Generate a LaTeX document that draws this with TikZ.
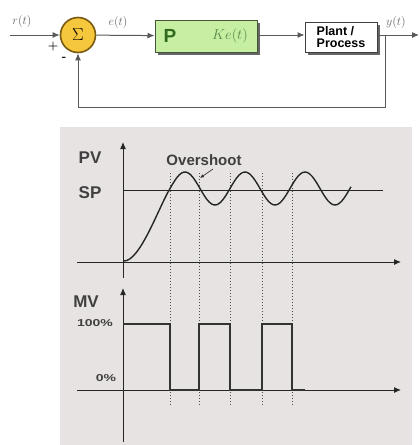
\documentclass[tikz,border=0pt]{standalone}
\usepackage{fontspec}
\setsansfont{Liberation Sans}
\usetikzlibrary{arrows.meta,shadows}

\definecolor{sumfill}{HTML}{F5C73C}
\definecolor{sumdraw}{HTML}{7A5A12}
\definecolor{pfill}{HTML}{C6EFA2}
\definecolor{pdraw}{HTML}{45553A}
\definecolor{pgreen}{HTML}{2F6A1E}
\definecolor{panelgray}{HTML}{E7E3E2}

\begin{document}
\begin{tikzpicture}[>={Latex[length=7pt,width=6pt]}, x=1pt, y=-1pt,
  sigline/.style={draw=black!65, line width=1pt},
  siglbl/.style={text=black!60, font=\fontsize{13}{13}\selectfont},
  sumnode/.style={circle, draw=sumdraw, fill=sumfill, line width=1.6pt,
    minimum size=35, inner sep=0pt, font=\fontsize{18}{18}\selectfont},
  blockshadow/.style={drop shadow={shadow xshift=3pt, shadow yshift=-3pt,
    opacity=0.8, fill=black!75}},
  pbox/.style={draw=pdraw, fill=pfill, line width=1pt, blockshadow,
    minimum width=102, minimum height=32},
  plantbox/.style={draw=black!75, fill=white, line width=1pt, blockshadow,
    minimum width=72, minimum height=30, align=left, inner sep=1pt,
    font=\sffamily\bfseries\fontsize{12.5}{11.5}\selectfont},
  axisline/.style={->, line width=1pt, draw=black!85},
  guide/.style={dotted, line width=1pt, black!70},
  axlbl/.style={font=\sffamily\bfseries\fontsize{17}{17}\selectfont, text=black!75}]
  \useasboundingbox (0,0) rectangle (420,445);

  % Feedback loop: sum -> P controller -> plant, output fed back.
  \coordinate (rin) at (10,35);
  \node[sumnode] (sum) at (78,35) {$\Sigma$};
  \node[pbox] (ctrl) at (206,36) {};
  \node[font=\sffamily\bfseries\fontsize{19}{19}\selectfont, text=pgreen]
    (pname) at (170,36) {P};
  \node[text=pgreen!80, font=\fontsize{15}{15}\selectfont] (pgain) at (230,36) {$Ke(t)$};
  \node[plantbox] (plant) at (341,37) {Plant /\\Process};
  \coordinate (yout) at (419,35);
  \coordinate (tap) at (385,35);
  \coordinate (fbcorner) at (385,107);
  \draw[sigline,->] (rin) -- (sum);
  \draw[sigline,->] (sum) -- (ctrl);
  \draw[sigline,->] (ctrl.east |- sum) -- (plant.west |- sum);
  \draw[sigline,->] (plant.east |- sum) -- (yout);
  \draw[sigline,->] (tap) -- (fbcorner) -| (sum.south);
  % Signal names and signs at the summing junction.
  \node[siglbl] (rlbl) at (22,21) {$r(t)$};
  \node[siglbl] (elbl) at (118,22) {$e(t)$};
  \node[siglbl] (ylbl) at (396,22) {$y(t)$};
  \node[font=\bfseries\fontsize{12}{12}\selectfont] (plus) at (53,47) {+};
  \node[font=\bfseries\fontsize{12}{12}\selectfont] (minus) at (64,59) {-};

  % Grey panel holding the response plots.
  \fill[panelgray] (60,127) rectangle (412,445);

  % Upper plot: process value against set point.
  \draw[axisline] (123,278) -- (123,142);
  \draw[axisline] (77,262) -- (401,262);
  \draw[line width=1pt, black!85] (123,190) -- (383,190);
  \node[axlbl] (pvlbl) at (90,158) {PV};
  \node[axlbl] (splbl) at (90,193) {SP};
  % Switching instants, dotted across both plots.
  \foreach \x in {170,199,230,262,292}
    \draw[guide] (\x,173) -- (\x,405);
  % Rise, then oscillation about the set point.
  \draw[line width=1.4pt, black!85] (124,261)
    .. controls (140,261) and (158,209) .. (170,188.5)
    -- plot[domain=170:351, samples=80, variable=\t]
       ({\t},{188.5-16.5*sin(6*(\t-170))});
  \node[axlbl, font=\sffamily\bfseries\fontsize{15}{15}\selectfont]
    (oslbl) at (204,160) {Overshoot};
  \coordinate (osfrom) at (213,169);
  \coordinate (ostip) at (200,178);
  \draw[->, >={Latex[length=4pt,width=3.5pt]}, line width=0.7pt, black!80]
    (osfrom) -- (ostip);

  % Lower plot: manipulated variable, on/off.
  \draw[axisline] (123,442) -- (123,288);
  \draw[axisline] (77,390) -- (401,390);
  \draw[line width=1.8pt, black!80] (123,324) -- (170,324) -- (170,390)
    -- (199,390) -- (199,324) -- (230,324) -- (230,390) -- (262,390)
    -- (262,324) -- (292,324) -- (292,390) -- (305,390);
  \node[axlbl] (mvlbl) at (86,302) {MV};
  \node[axlbl, font=\sffamily\bfseries\fontsize{10}{10}\selectfont,
    xscale=1.4] (hilbl) at (95,323) {100\%};
  \node[axlbl, font=\sffamily\bfseries\fontsize{10}{10}\selectfont,
    xscale=1.4] (lolbl) at (106,378) {0\%};
\end{tikzpicture}
\end{document}
